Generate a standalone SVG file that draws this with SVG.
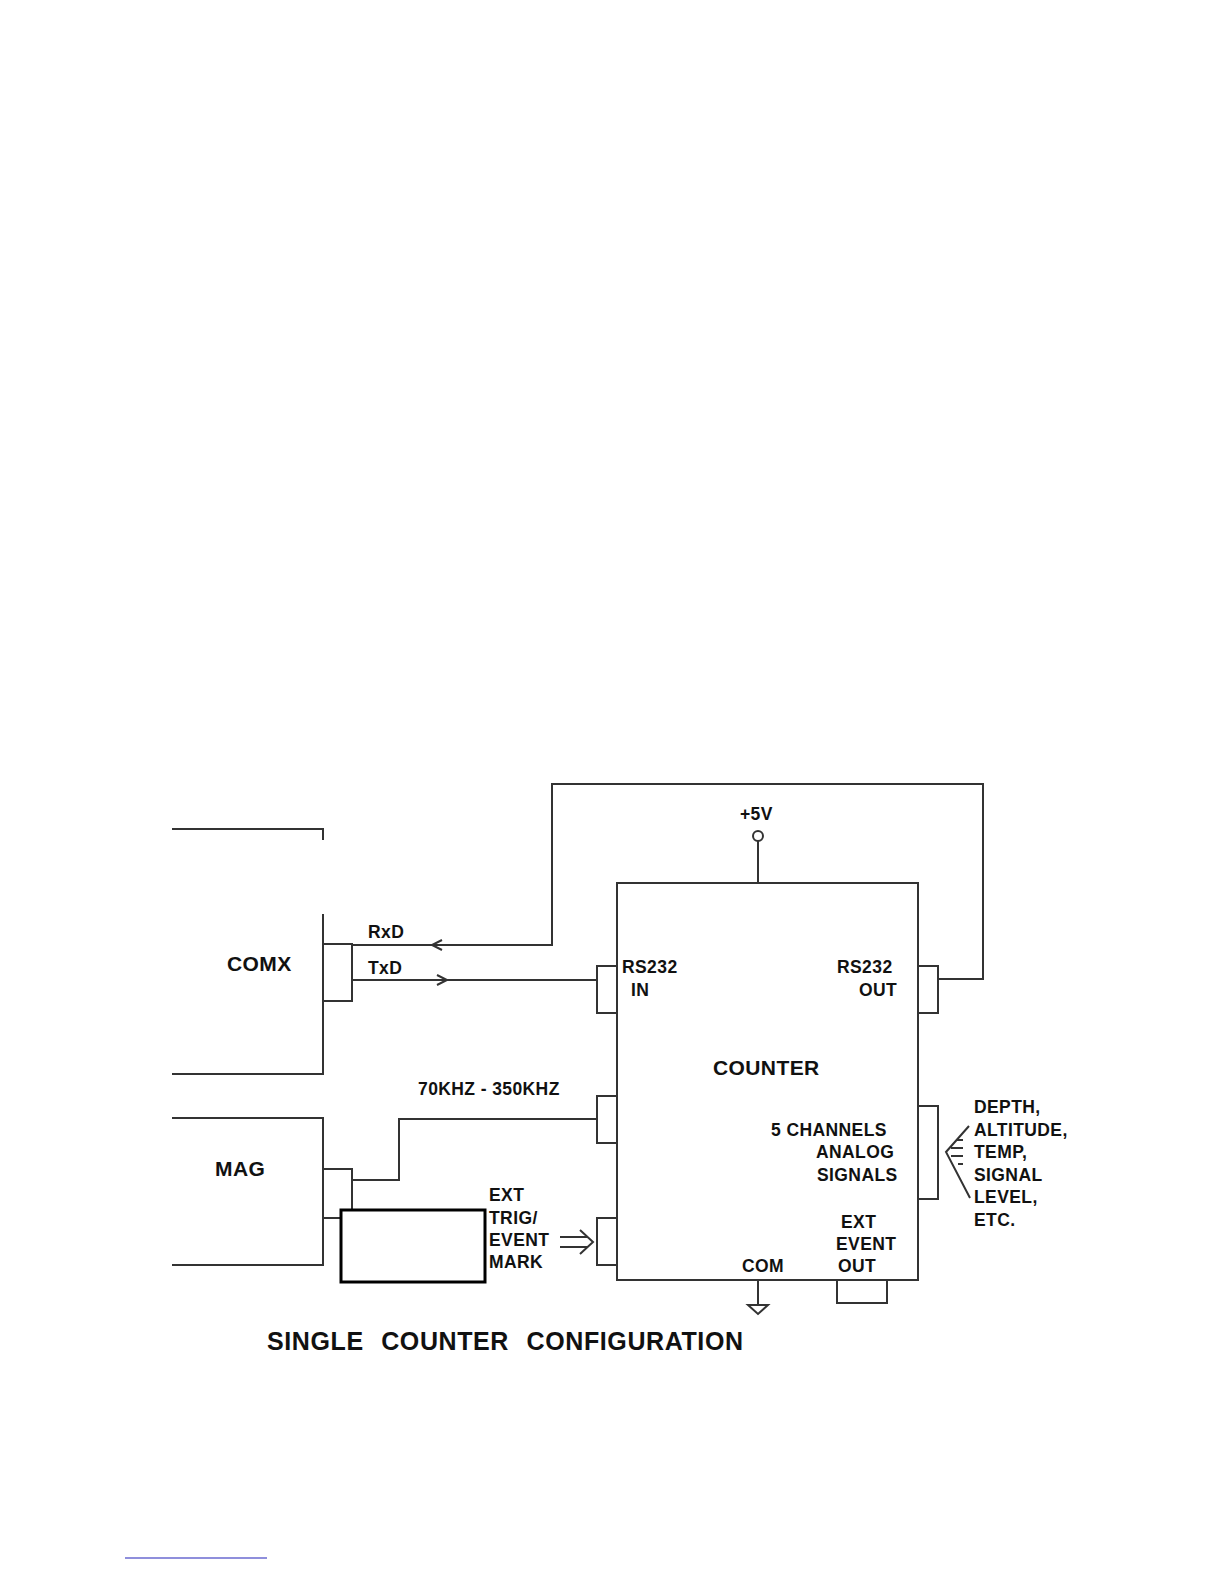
<svg xmlns="http://www.w3.org/2000/svg" width="1224" height="1584" viewBox="0 0 1224 1584">
<style>
.l{fill:none;stroke:#333;stroke-width:2}
.t{font-family:"Liberation Sans",Arial,sans-serif;font-weight:bold;font-size:17.5px;letter-spacing:0.4px;fill:#111}
.b{font-size:21px}
</style>
<rect width="1224" height="1584" fill="#fff"/>
<g id="comx">
<path class="l" d="M172 829H323V840M323 914V1074H172"/>
<rect class="l" x="323" y="944" width="29" height="57"/>
<text class="t b" x="227" y="971">COMX</text>
</g>
<g id="mag">
<path class="l" d="M172 1118H323V1265H172"/>
<path class="l" d="M323 1169H352V1210M323 1218H341"/>
<text class="t b" x="215" y="1176">MAG</text>
</g>
<g id="trigbox">
<rect x="341" y="1210" width="144" height="72" fill="none" stroke="#000" stroke-width="3"/>
<text class="t" x="489" y="1201">EXT</text>
<text class="t" x="489" y="1224">TRIG/</text>
<text class="t" x="489" y="1246">EVENT</text>
<text class="t" x="489" y="1268">MARK</text>
</g>
<g id="counter">
<rect class="l" x="617" y="883" width="301" height="397"/>
<rect class="l" x="597" y="966" width="20" height="47"/>
<rect class="l" x="597" y="1096" width="20" height="47"/>
<rect class="l" x="597" y="1218" width="20" height="47"/>
<rect class="l" x="918" y="966" width="20" height="47"/>
<rect class="l" x="918" y="1106" width="20" height="93"/>
<rect class="l" x="837" y="1280" width="50" height="23"/>
<text class="t b" x="713" y="1075">COUNTER</text>
<text class="t" x="622" y="973">RS232</text>
<text class="t" x="631" y="996">IN</text>
<text class="t" x="837" y="973">RS232</text>
<text class="t" x="859" y="996">OUT</text>
<text class="t" x="771" y="1136">5 CHANNELS</text>
<text class="t" x="816" y="1158">ANALOG</text>
<text class="t" x="817" y="1181">SIGNALS</text>
<text class="t" x="841" y="1228">EXT</text>
<text class="t" x="836" y="1250">EVENT</text>
<text class="t" x="838" y="1272">OUT</text>
<text class="t" x="742" y="1272">COM</text>
</g>
<g id="power">
<circle class="l" cx="758" cy="836" r="5"/>
<text class="t" x="740" y="820">+5V</text>
</g>
<g id="ground">
<path class="l" d="M758 1280V1305M748 1305H768L758 1314Z"/>
</g>
<g id="signals">
<text class="t" x="974" y="1113">DEPTH,</text>
<text class="t" x="974" y="1136">ALTITUDE,</text>
<text class="t" x="974" y="1158">TEMP,</text>
<text class="t" x="974" y="1181">SIGNAL</text>
<text class="t" x="974" y="1203">LEVEL,</text>
<text class="t" x="974" y="1226">ETC.</text>
</g>
<g id="connectors">
<path class="l" d="M352 945H552V784H983V979H938"/>
<path class="l" d="M442 940L432 945L442 950"/>
<path class="l" d="M352 980H597"/>
<path class="l" d="M437 975L447 980L437 985"/>
<path class="l" d="M352 1180H399V1119H597"/>
<path class="l" d="M758 841V883"/>
<path class="l" d="M560 1237H588M560 1247H588M580 1230L593 1242L580 1254" stroke-width="1.5"/>
<path class="l" d="M969 1126L946 1152L970 1198M957 1140H963M951 1148H963M951 1156H963M958 1164H963" stroke-width="1.5"/>
<text class="t" x="368" y="938">RxD</text>
<text class="t" x="368" y="974">TxD</text>
<text class="t" x="418" y="1095">70KHZ - 350KHZ</text>
</g>
<text class="t" x="267" y="1350" style="font-size:25px;word-spacing:10px;letter-spacing:0.6px">SINGLE COUNTER CONFIGURATION</text>
<path d="M125 1558H267" stroke="#6a6ad0" stroke-width="1.5"/>
</svg>
